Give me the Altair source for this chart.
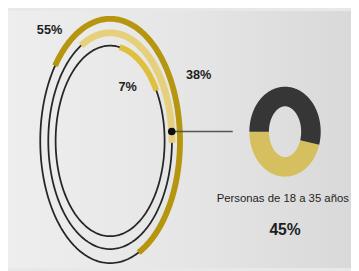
import altair as alt
import pandas as pd

# ---------------- data ----------------
ring_names = ["outer", "middle", "inner"]
ring_labels = ["55%", "38%", "7%"]
arc_start_deg = [-52, -28, 10]      # (clockwise from top)
arc_end_deg = [156, 91, 58]
donut_names = ["18 a 35", "otros"]
donut_share = [45, 55]
donut_caption = "Personas de 18 a 35 años"
donut_value = "45%"

# ---------------- layout / style constants ----------------
W, H = 351, 263
ring_rel = [1.0, 0.885, 0.78]
arc_colors = ["#b5960e", "#e6d07c", "#dfbf3c"]
arc_widths = [6, 7, 6]
RX0, RX1, RY0, RY1 = 33, 176, 258, 8          # ring scale ranges (px)
DX0, DX1, DY0, DY1 = 257, 310, 159.5, 87.5    # donut scale ranges (px)
label_xy = [(-0.867, 0.904), (1.267, 0.541), (0.252, 0.439)]
dot_angle = 85

def xs_r():
    return alt.Scale(domain=[-1, 1], range=[RX0, RX1])
def ys_r():
    return alt.Scale(domain=[-1, 1], range=[RY0, RY1])
def xs_d():
    return alt.Scale(domain=[-1, 1], range=[DX0, DX1])
def ys_d():
    return alt.Scale(domain=[-1, 1], range=[DY0, DY1])

tracks = pd.DataFrame({"ring": ring_names, "r": ring_rel,
                       "a0": [0] * 3, "a1": [360] * 3})
arcs = pd.DataFrame({"ring": ring_names, "r": ring_rel,
                     "a0": arc_start_deg, "a1": arc_end_deg,
                     "col": arc_colors, "w": arc_widths})

def ellipse_path(df_chart):
    return (df_chart
            .transform_calculate(k="sequence(0, 241)")
            .transform_flatten(["k"])
            .transform_calculate(
                ang="(datum.a0 + (datum.a1 - datum.a0) * datum.k / 240) * PI / 180",
                px="datum.r * sin(datum.ang)",
                py="datum.r * cos(datum.ang)"))

bg = alt.Chart(pd.DataFrame({"v": [0]})).mark_rect(
    color=alt.Gradient(gradient="linear",
                       stops=[alt.GradientStop(color="#eeeeee", offset=0),
                              alt.GradientStop(color="#e6e6e6", offset=0.5),
                              alt.GradientStop(color="#d9d9d9", offset=1)],
                       x1=0, x2=1, y1=0, y2=0)
).encode(x=alt.value(0), x2=alt.value(W), y=alt.value(0), y2=alt.value(H))

# ring chart (tracks, arcs, labels, dot, connector) on its own scales
track_layer = ellipse_path(alt.Chart(tracks)).mark_line(
    color="#262626", strokeWidth=1.8, strokeCap="butt").encode(
    x=alt.X("px:Q", scale=xs_r(), axis=None),
    y=alt.Y("py:Q", scale=ys_r(), axis=None),
    detail="ring:N", order="k:Q")

arc_layer = ellipse_path(alt.Chart(arcs)).mark_line(strokeCap="butt").encode(
    x=alt.X("px:Q", scale=xs_r(), axis=None),
    y=alt.Y("py:Q", scale=ys_r(), axis=None),
    color=alt.Color("col:N", scale=None),
    strokeWidth=alt.StrokeWidth("w:Q", scale=None),
    detail="ring:N", order="k:Q")

lab = pd.DataFrame({"t": ring_labels,
                    "px": [p[0] for p in label_xy],
                    "py": [p[1] for p in label_xy]})
label_layer = alt.Chart(lab).mark_text(
    font="Liberation Sans", fontWeight="bold", fontSize=13,
    color="#1e1e1e", align="center", baseline="middle").encode(
    x=alt.X("px:Q", scale=xs_r(), axis=None),
    y=alt.Y("py:Q", scale=ys_r(), axis=None),
    text="t:N")

dot = pd.DataFrame({"ang": [dot_angle], "r": [ring_rel[1]], "xend": [1.755]})
dot_base = alt.Chart(dot).transform_calculate(
    px="datum.r * sin(datum.ang * PI / 180)",
    py="datum.r * cos(datum.ang * PI / 180)")
connector = dot_base.mark_rule(color="#555555", strokeWidth=1.5).encode(
    x=alt.X("px:Q", scale=xs_r(), axis=None),
    x2="xend:Q",
    y=alt.Y("py:Q", scale=ys_r(), axis=None))
dot_layer = dot_base.mark_point(filled=True, size=60, color="#0d0d0d",
                                opacity=1).encode(
    x=alt.X("px:Q", scale=xs_r(), axis=None),
    y=alt.Y("py:Q", scale=ys_r(), axis=None))

ring_chart = alt.layer(track_layer, arc_layer, label_layer, connector, dot_layer)

# donut: yellow share ends at 270 deg, dark fills the rest
yellow_start = 270 - donut_share[0] * 3.6
donut = pd.DataFrame({"name": donut_names, "r": [1, 1],
                      "a0": [yellow_start, 270],
                      "a1": [270, 270 + donut_share[1] * 3.6],
                      "col": ["#d6bf5e", "#363636"]})
donut_layer = ellipse_path(alt.Chart(donut)).mark_line(
    strokeWidth=20, strokeCap="butt", strokeJoin="round").encode(
    x=alt.X("px:Q", scale=xs_d(), axis=None),
    y=alt.Y("py:Q", scale=ys_d(), axis=None),
    color=alt.Color("col:N", scale=None),
    detail="name:N", order="k:Q")

caption = pd.DataFrame({"t": [donut_caption, donut_value],
                        "px": [-2.64, 0.0], "py": [-2.0, -2.93],
                        "fw": ["normal", "bold"]})
cap_layer = alt.Chart(caption).transform_filter("datum.fw == 'normal'").mark_text(
    font="Liberation Sans", fontSize=11.6, color="#1e1e1e",
    align="left", baseline="alphabetic").encode(
    x=alt.X("px:Q", scale=xs_d(), axis=None),
    y=alt.Y("py:Q", scale=ys_d(), axis=None), text="t:N")
val_layer = alt.Chart(caption).transform_filter("datum.fw == 'bold'").mark_text(
    font="Liberation Sans", fontSize=16, fontWeight="bold", color="#1e1e1e",
    align="center", baseline="alphabetic").encode(
    x=alt.X("px:Q", scale=xs_d(), axis=None),
    y=alt.Y("py:Q", scale=ys_d(), axis=None), text="t:N")

donut_chart = alt.layer(donut_layer, cap_layer, val_layer)

chart = alt.layer(
    bg, ring_chart, donut_chart
).resolve_scale(x="independent", y="independent").properties(
    width=W, height=H, autosize=alt.AutoSizeParams(type="none"),
    padding=0, background="#e8e8e8"
).configure_view(stroke=None)

chart.save("out.html", embed_options={"renderer": "svg", "actions": False})
